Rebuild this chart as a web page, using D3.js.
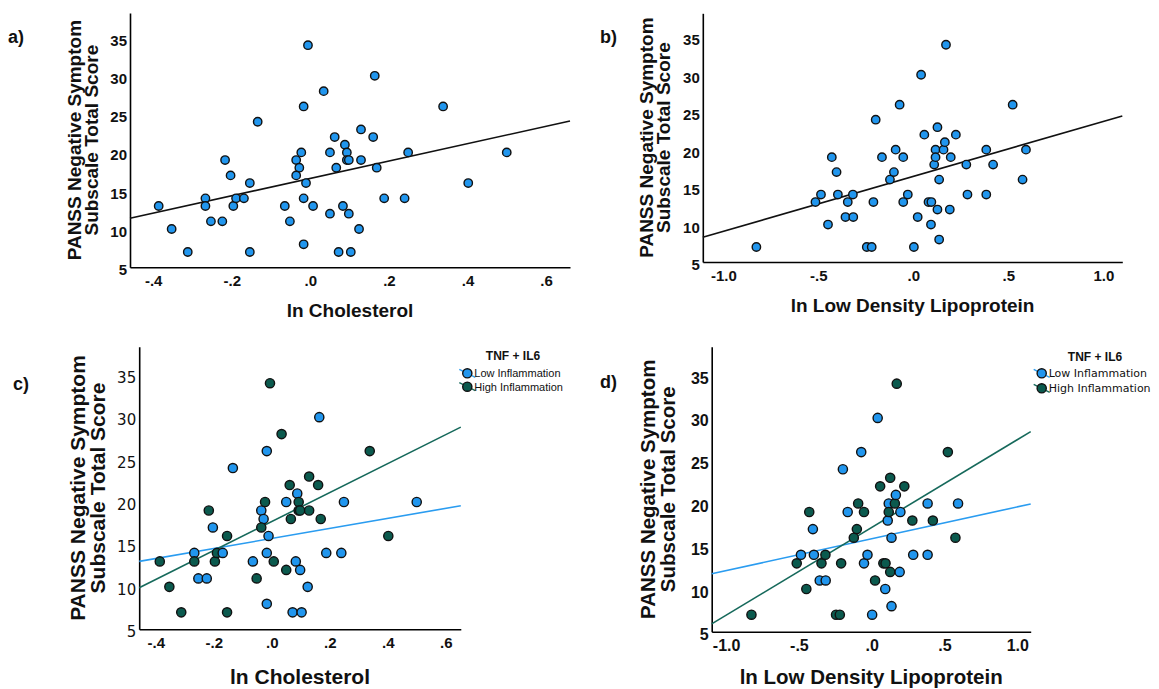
<!DOCTYPE html>
<html>
<head>
<meta charset="utf-8">
<script src="https://cdn.jsdelivr.net/npm/d3@7"></script>
<style>
  body { margin: 0; background: #fff; }
  svg { display: block; }
  .domain { stroke: #000; stroke-width: 1.6; }
</style>
</head>
<body>
<div id="chart-area"></div>
<script>
// ln cholesterol vs PANSS negative score (panels a and c)
const cholX = [-0.386, -0.353, -0.312, -0.267, -0.267, -0.253, -0.224, -0.217, -0.203, -0.196,
  -0.189, -0.169, -0.154, -0.154, -0.134, -0.065, -0.052, -0.036, -0.028, -0.036,
  -0.023, -0.017, -0.017, -0.017, -0.011, -0.006, 0.007, 0.034, 0.050, 0.050,
  0.062, 0.066, 0.072, 0.083, 0.088, 0.093, 0.093, 0.098, 0.098, 0.103,
  0.124, 0.129, 0.129, 0.160, 0.164, 0.169, 0.188, 0.240, 0.249, 0.338, 0.402, 0.500];
const cholY = [13, 10, 7, 14, 13, 11, 11, 19, 17, 13,
  14, 14, 16, 7, 24, 13, 11, 19, 18, 17,
  20, 26, 14, 8, 16, 34, 13, 28, 20, 12,
  22, 18, 7, 13, 21, 20, 19, 19, 12, 7,
  10, 23, 19, 22, 30, 18, 14, 14, 20, 26, 16, 20];
const cholGroup = ["H", "H", "H", "L", "H", "L", "L", "H", "L", "H",
  "H", "L", "H", "H", "L", "L", "H", "L", "L", "H",
  "H", "L", "L", "L", "L", "H", "H", "H", "L", "H",
  "H", "H", "L", "L", "L", "H", "H", "H", "L", "L",
  "L", "H", "H", "H", "L", "H", "L", "L", "L", "H", "H", "L"];

// ln LDL vs PANSS negative score (panels b and d)
const ldlX = [-0.826, -0.515, -0.486, -0.449, -0.429, -0.404, -0.397, -0.357, -0.345, -0.318,
  -0.316, -0.245, -0.219, -0.210, -0.198, -0.165, -0.123, -0.102, -0.093, -0.072,
  -0.053, -0.053, -0.029, 0.003, 0.023, 0.041, 0.058, 0.080, 0.095, 0.093,
  0.110, 0.117, 0.117, 0.127, 0.127, 0.136, 0.136, 0.159, 0.166, 0.172,
  0.192, 0.197, 0.224, 0.279, 0.285, 0.384, 0.384, 0.420, 0.523, 0.575, 0.593];
const ldlY = [7, 13, 14, 10, 19, 17, 14, 11, 13, 14,
  11, 7, 7, 13, 24, 19, 16, 17, 20, 26,
  19, 13, 14, 7, 11, 30, 22, 13, 13, 10,
  18, 20, 19, 23, 12, 16, 8, 20, 21, 34,
  12, 19, 22, 18, 14, 20, 14, 18, 26, 16, 20];
const ldlGroup = ["H", "H", "L", "H", "H", "L", "L", "L", "H", "H",
  "L", "H", "H", "H", "L", "L", "H", "H", "H", "L",
  "H", "L", "L", "L", "H", "L", "H", "H", "H", "L",
  "L", "L", "H", "H", "H", "L", "L", "H", "L", "H",
  "L", "L", "H", "H", "L", "L", "L", "H", "H", "H", "L"];

// fit lines, read as end points [x, y] at the axis limits
const fitA = [[-0.459, 11.4], [0.661, 24.1]];
const fitB = [[-1.108, 8.3], [1.10, 24.5]];
const fitCLow = [[-0.457, 13.0], [0.652, 19.56]];
const fitCHigh = [[-0.457, 9.9], [0.652, 28.82]];
const fitDLow = [[-1.099, 11.78], [1.092, 19.94]];
const fitDHigh = [[-1.099, 5.92], [1.092, 28.4]];

const cholTicks = [-0.4, -0.2, 0, 0.2, 0.4, 0.6];
const ldlTicks = [-1, -0.5, 0, 0.5, 1];
const scoreTicks = [5, 10, 15, 20, 25, 30, 35];
const groupNames = { L: "Low Inflammation", H: "High Inflammation" };
const legendTitle = "TNF + IL6";
const yTitle = ["PANSS Negative Symptom", "Subscale Total Score"];

const colors = { L: "#2196ee", H: "#0b5a4e", single: "#2196ee" };
const lineColors = { L: "#2a9cf0", H: "#16695b" };

const fontBold = "'Liberation Sans', Arial, sans-serif";
// SPSS style: no leading zero, plain hyphen for minus
const tickFmt = d => (d < 0 ? "-" : "") + Math.abs(d).toFixed(1).replace(/^0\./, ".");

const panels = [
  { label: "a)", lab: [8, 37], xs: cholX, ys: cholY, grp: null, xTicks: cholTicks,
    xDom: [-0.459, 0.661], xRng: [130, 570], yDom: [5, 38.2], yRng: [267.3, 13],
    fits: [{ pts: fitA, color: "#111" }], r: 4.2, xTitle: "ln Cholesterol", xTitleY: 310,
    titleSize: 19, yTitleX: [74, 91], tickSize: 15, yTickStyle: "bold", legend: null },
  { label: "b)", lab: [600, 37], xs: ldlX, ys: ldlY, grp: null, xTicks: ldlTicks,
    xDom: [-1.108, 1.10], xRng: [702.8, 1122.3], yDom: [5, 38.2], yRng: [262, 13.3],
    fits: [{ pts: fitB, color: "#111" }], r: 4.2, xTitle: "ln Low Density Lipoprotein", xTitleY: 305,
    titleSize: 19, yTitleX: [646, 663], tickSize: 15, yTickStyle: "bold", legend: null },
  { label: "c)", lab: [13, 384], xs: cholX, ys: cholY, grp: cholGroup, xTicks: cholTicks,
    xDom: [-0.457, 0.652], xRng: [139.2, 460.8], yDom: [5, 38.3], yRng: [629.3, 346.7],
    fits: [{ pts: fitCLow, color: lineColors.L }, { pts: fitCHigh, color: lineColors.H }], r: 4.6,
    xTitle: "ln Cholesterol", xTitleY: 676, titleSize: 21, yTitleX: [77, 97], tickSize: 15,
    yTickStyle: "plain", legend: { tx: 513, ty: 356, cx: 467.3, cy: [373.3, 386.7], font: 11,
    family: "'Liberation Sans', Arial, sans-serif" } },
  { label: "d)", lab: [600, 382], xs: ldlX, ys: ldlY, grp: ldlGroup, xTicks: ldlTicks,
    xDom: [-1.099, 1.092], xRng: [711.7, 1030.7], yDom: [5, 38.32], yRng: [631.8, 346.7],
    fits: [{ pts: fitDLow, color: lineColors.L }, { pts: fitDHigh, color: lineColors.H }], r: 4.6,
    xTitle: "ln Low Density Lipoprotein", xTitleY: 676, titleSize: 20.5, yTitleX: [647, 667], tickSize: 16,
    yTickStyle: "bold", legend: { tx: 1095, ty: 357, cx: 1041.7, cy: [373.3, 388.3], font: 11,
    family: "'DejaVu Sans', Verdana, sans-serif" } }
];

const svg = d3.select("#chart-area").append("svg")
  .attr("width", 1159).attr("height", 689);

const drawPanel = function(p) {
  const x = d3.scaleLinear().domain(p.xDom).range(p.xRng);
  const y = d3.scaleLinear().domain(p.yDom).range(p.yRng);
  const g = svg.append("g");

  const xAxis = d3.axisBottom(x).tickValues(p.xTicks).tickFormat(tickFmt)
    .tickSizeInner(0).tickSizeOuter(0).tickPadding(8);
  const gx = g.append("g").attr("transform", `translate(0,${p.yRng[0]})`).call(xAxis);
  gx.selectAll("text").attr("font-family", fontBold).attr("font-weight", "bold")
    .attr("font-size", p.tickSize).attr("fill", "#111");

  const yAxis = d3.axisLeft(y).tickValues(scoreTicks).tickFormat(d3.format("d"))
    .tickSizeInner(0).tickSizeOuter(0).tickPadding(3);
  const gy = g.append("g").attr("transform", `translate(${p.xRng[0]},0)`).call(yAxis);
  gy.selectAll("text")
    .attr("font-family", p.yTickStyle === "bold" ? fontBold : "'DejaVu Sans', sans-serif")
    .attr("font-weight", p.yTickStyle === "bold" ? "bold" : "normal")
    .attr("font-size", p.yTickStyle === "bold" ? p.tickSize : 15)
    .attr("dy", "0.5em").attr("fill", "#111");

  const line = d3.line().x(d => x(d[0])).y(d => y(d[1]));
  p.fits.forEach(f => {
    g.append("path").attr("d", line(f.pts)).attr("fill", "none")
      .attr("stroke", f.color).attr("stroke-width", 1.6);
  });

  const pts = p.xs.map((v, i) => ({ x: v, y: p.ys[i], g: p.grp ? p.grp[i] : "single" }));
  g.selectAll("circle.pt").data(pts).join("circle")
    .attr("class", "pt")
    .attr("cx", d => x(d.x)).attr("cy", d => y(d.y)).attr("r", p.r)
    .attr("fill", d => colors[d.g]).attr("stroke", "#111").attr("stroke-width", 1.4);

  g.append("text").attr("x", (p.xRng[0] + p.xRng[1]) / 2).attr("y", p.xTitleY)
    .attr("text-anchor", "middle").attr("dominant-baseline", "central")
    .attr("font-family", fontBold).attr("font-weight", "bold").attr("font-size", p.titleSize)
    .attr("fill", "#111").text(p.xTitle);

  const cy = (p.yRng[0] + p.yRng[1]) / 2;
  yTitle.forEach((t, i) => {
    g.append("text").attr("transform", `translate(${p.yTitleX[i]},${cy}) rotate(-90)`)
      .attr("text-anchor", "middle").attr("dominant-baseline", "central")
      .attr("font-family", fontBold).attr("font-weight", "bold").attr("font-size", p.titleSize)
      .attr("fill", "#111").text(t);
  });

  g.append("text").attr("x", p.lab[0]).attr("y", p.lab[1]).attr("dominant-baseline", "central")
    .attr("font-family", fontBold).attr("font-weight", "bold").attr("font-size", 18)
    .attr("fill", "#111").text(p.label);

  if (p.legend) {
    const L = p.legend;
    g.append("text").attr("x", L.tx).attr("y", L.ty).attr("text-anchor", "middle")
      .attr("dominant-baseline", "central").attr("font-family", fontBold)
      .attr("font-weight", "bold").attr("font-size", 12).attr("fill", "#111").text(legendTitle);
    ["L", "H"].forEach((k, i) => {
      const ly = L.cy[i];
      g.append("line").attr("x1", L.cx - 8).attr("y1", ly - 4).attr("x2", L.cx + 8).attr("y2", ly + 4)
        .attr("stroke", lineColors[k]).attr("stroke-width", 1.4);
      g.append("circle").attr("cx", L.cx).attr("cy", ly).attr("r", 4.6)
        .attr("fill", colors[k]).attr("stroke", "#111").attr("stroke-width", 1.4);
      g.append("text").attr("x", L.cx + 7).attr("y", ly).attr("dominant-baseline", "central")
        .attr("font-family", L.family).attr("font-size", L.font).attr("fill", "#111")
        .text(groupNames[k]);
    });
  }
};

panels.forEach(drawPanel);
</script>
</body>
</html>
